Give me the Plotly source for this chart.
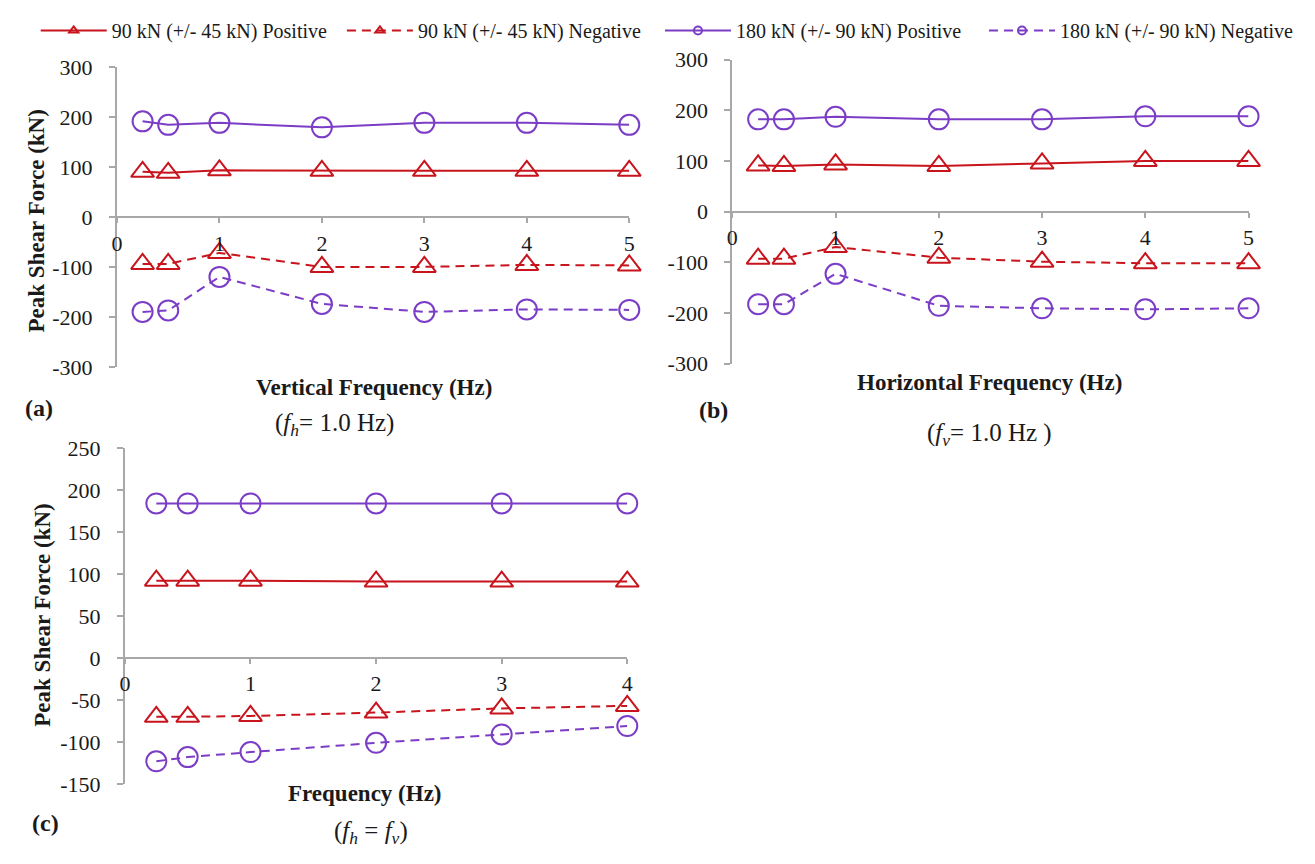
import plotly.graph_objects as go

# Frequencies (Hz)
freq_ab = [0.25, 0.5, 1, 2, 3, 4, 5]
freq_c = [0.25, 0.5, 1, 2, 3, 4]

# (a) varying vertical frequency, f_h = 1.0 Hz
a_90_pos = [91, 89, 94, 93, 93, 93, 93]
a_90_neg = [-93, -93, -71, -99, -99, -95, -96]
a_180_pos = [192, 185, 189, 180, 189, 189, 185]
a_180_neg = [-189, -186, -119, -173, -189, -184, -185]

# (b) varying horizontal frequency, f_v = 1.0 Hz
b_90_pos = [91, 90, 93, 90, 95, 100, 100]
b_90_neg = [-93, -93, -70, -91, -99, -102, -102]
b_180_pos = [182, 182, 187, 182, 182, 188, 188]
b_180_neg = [-183, -183, -123, -186, -191, -193, -191]

# (c) equal frequencies, f_h = f_v
c_90_pos = [92, 92, 92, 91, 91, 91]
c_90_neg = [-70, -70, -69, -65, -60, -57]
c_180_pos = [184, 184, 184, 184, 184, 184]
c_180_neg = [-123, -118, -112, -101, -91, -81]

# axis ticks
x_ticks_ab = [0, 1, 2, 3, 4, 5]
x_ticks_c = [0, 1, 2, 3, 4]
y_ticks_ab = [-300, -200, -100, 0, 100, 200, 300]
y_ticks_c = [-150, -100, -50, 0, 50, 100, 150, 200, 250]

series_names = [
    "90 kN (+/- 45 kN) Positive",
    "90 kN (+/- 45 kN) Negative",
    "180 kN (+/- 90 kN) Positive",
    "180 kN (+/- 90 kN) Negative",
]

RED = "#C8141C"
PURPLE = "#7B3DC6"
AXIS = "#A8A8A8"
TXT = "#1A1A1A"
FONT = "Liberation Serif"
W, H = 1315, 864

styles = [
    dict(color=RED, dash="solid", symbol="triangle-up-open", size=20),
    dict(color=RED, dash="9px,6px", symbol="triangle-up-open", size=20),
    dict(color=PURPLE, dash="solid", symbol="circle-open", size=20),
    dict(color=PURPLE, dash="9px,6px", symbol="circle-open", size=20),
]


def px_x(p):
    return p / W


def px_y(p):
    return 1 - p / H


def hyphen_labels(vals):
    return [str(v) for v in vals]


# panel frames in pixels: (left, right, top, bottom) and axis ranges
panels = [
    dict(box=(112, 629, 57, 366), xr=[0, 5], yr=[-300, 300],
         x=freq_ab, data=[a_90_pos, a_90_neg, a_180_pos, a_180_neg],
         xt=x_ticks_ab, yt=y_ticks_ab),
    dict(box=(733, 1254, 49, 362), xr=[0, 5], yr=[-300, 300],
         x=freq_ab, data=[b_90_pos, b_90_neg, b_180_pos, b_180_neg],
         xt=x_ticks_ab, yt=y_ticks_ab),
    dict(box=(120, 627, 449, 795), xr=[0, 4], yr=[-150, 250],
         x=freq_c, data=[c_90_pos, c_90_neg, c_180_pos, c_180_neg],
         xt=x_ticks_c, yt=y_ticks_c),
]

fig = go.Figure()
layout_axes = {}
tick_font = dict(family=FONT, size=22, color=TXT)
for i, p in enumerate(panels):
    n = "" if i == 0 else str(i + 1)
    l, r, t, b = p["box"]
    xd = [px_x(l), px_x(r)]
    yd = [px_y(b), px_y(t)]
    y0, y1 = p["yr"]
    zero_pos = yd[0] + (0 - y0) / (y1 - y0) * (yd[1] - yd[0])
    layout_axes["xaxis" + n] = dict(
        domain=xd, range=p["xr"], anchor="free", position=zero_pos,
        showline=True, linecolor=AXIS, linewidth=2, showgrid=False, zeroline=False,
        ticks="outside", ticklen=5, tickcolor=AXIS, tickwidth=2,
        tickvals=p["xt"], ticktext=hyphen_labels(p["xt"]), tickfont=tick_font,
        ticklabelstandoff=1, fixedrange=True,
    )
    layout_axes["yaxis" + n] = dict(
        domain=yd, range=p["yr"], anchor="x" + n,
        showline=True, linecolor=AXIS, linewidth=2, showgrid=False, zeroline=False,
        ticks="outside", ticklen=6, tickcolor=AXIS, tickwidth=2,
        tickvals=p["yt"], ticktext=hyphen_labels(p["yt"]), tickfont=tick_font,
        ticklabelstandoff=12, fixedrange=True,
    )
    for name, vals, st in zip(series_names, p["data"], styles):
        fig.add_trace(go.Scatter(
            x=p["x"], y=vals, name=name, mode="lines+markers",
            xaxis="x" + n, yaxis="y" + n, showlegend=False, cliponaxis=False,
            line=dict(color=st["color"], width=2, dash=st["dash"]),
            marker=dict(symbol=st["symbol"], size=st["size"],
                        color=st["color"], line=dict(width=2, color=st["color"])),
        ))

# legend keys: one legend box per series, with small key markers
legend_left = [30, 339, 660, 987]
legend_names = ["legend", "legend2", "legend3", "legend4"]
for name, st, lg in zip(series_names, styles, legend_names):
    fig.add_trace(go.Scatter(
        x=[None], y=[None], name=name, mode="lines+markers", legend=lg,
        line=dict(color=st["color"], width=2, dash=st["dash"]),
        marker=dict(symbol=st["symbol"], size=8, color=st["color"],
                    line=dict(width=2, color=st["color"])),
    ))

legend_style = dict(orientation="h", yanchor="middle", xanchor="left", y=px_y(19),
                    font=dict(family=FONT, size=20, color=TXT), itemwidth=66,
                    itemsizing="trace", bgcolor="rgba(0,0,0,0)", borderwidth=0)
for lg, left in zip(legend_names, legend_left):
    layout_axes[lg] = dict(legend_style, x=px_x(left))

fig.update_layout(**layout_axes)

bold = dict(family=FONT, size=23, color=TXT)
note = dict(family=FONT, size=25, color=TXT)
tag = dict(family=FONT, size=24, color=TXT)
ann = [
    dict(x=px_x(371), y=px_y(387), text="<b>Vertical Frequency (Hz)</b>", font=bold),
    dict(x=px_x(993), y=px_y(382), text="<b>Horizontal Frequency (Hz)</b>", font=bold),
    dict(x=px_x(362), y=px_y(805), text="<b>Frequency (Hz)</b>", font=bold),
    dict(x=px_x(31), y=px_y(215), text="<b>Peak Shear Force (kN)</b>", font=bold, textangle=-90),
    dict(x=px_x(36), y=px_y(621), text="<b>Peak Shear Force (kN)</b>", font=bold, textangle=-90),
    dict(x=px_x(33), y=px_y(408), text="<b>(a)</b>", font=tag),
    dict(x=px_x(714), y=px_y(410), text="<b>(b)</b>", font=tag),
    dict(x=px_x(40), y=px_y(835), text="<b>(c)</b>", font=tag),
    dict(x=px_x(332), y=px_y(425), text="(<i>f</i><sub><i>h</i></sub>= 1.0 Hz)", font=note),
    dict(x=px_x(993), y=px_y(435), text="(<i>f</i><sub><i>v</i></sub>= 1.0 Hz )", font=note),
    dict(x=px_x(368), y=px_y(845), text="(<i>f</i><sub><i>h</i></sub> = <i>f</i><sub><i>v</i></sub>)", font=note),
]
for a in ann:
    a.update(xref="paper", yref="paper", showarrow=False, xanchor="center", yanchor="middle")

fig.update_layout(
    width=W, height=H, margin=dict(l=0, r=0, t=0, b=0),
    paper_bgcolor="white", plot_bgcolor="white",
    annotations=ann,
)

fig.write_html("out.html")
